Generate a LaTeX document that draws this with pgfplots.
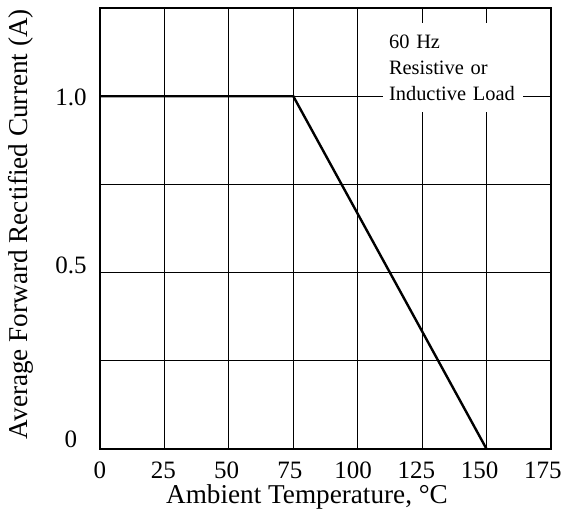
\documentclass[border=0pt]{standalone}
\usepackage{fontspec}
\setmainfont{Liberation Serif}
\usepackage{pgfplots}
\pgfplotsset{compat=1.18}

\begin{document}
\begin{tikzpicture}
  \begin{axis}[
      name=ax,
      scale only axis,
      width=225.5pt, height=220.5pt,
      xmin=0, xmax=175,
      ymin=0, ymax=1.25,
      % grid lines only, labels come from the extra ticks
      xtick={0,25,...,175},
      xticklabels={},
      ytick={0,0.5,1},
      yticklabels={},
      minor ytick={0.25,0.75},
      grid=both,
      grid style={black, line width=0.6pt},
      minor grid style={black, line width=0.6pt},
      axis line style={black, line width=0.6pt},
      major tick length=0pt,
      minor tick length=0pt,
      extra x ticks={0,24.55,49.1,73.65,98.2,122.75,147.3,171.85},
      extra x tick labels={0,25,50,75,100,125,150,175},
      extra y ticks={0.0283,0.5215,0.9963},
      extra y tick labels={0,0.5,1.0},
      extra tick style={grid=none, major tick length=0pt},
      /pgf/number format/assume math mode=true,
      ticklabel style={font=\fontsize{12.5}{15}\selectfont},
      xticklabel style={anchor=center, yshift=-10.5pt},
      yticklabel style={anchor=center, xshift=-14.5pt},
      label style={font=\fontsize{13.6}{16}\selectfont},
      xlabel={Ambient Temperature, °C},
      ylabel={Average Forward Rectified Current (A)},
      xlabel style={at={(axis description cs:0.459,0)}, anchor=center, yshift=-24pt},
      ylabel style={at={(axis description cs:0,0.5)}, anchor=center, yshift=39.7pt, xshift=2.2pt},
      clip=false,
    ]

    % derating curve
    \addplot[black, line width=1.2pt] coordinates {(0,1) (75,1) (150,0)};

    % note box
    \node[fill=white, inner xsep=3pt, inner ysep=0pt, text width=64pt,
          minimum height=44.5pt, align=left,
          font=\fontsize{10.2}{13}\selectfont]
      at (axis cs:137,1.081) {60 Hz\\Resistive or\\Inductive Load};
  \end{axis}
  \pgfresetboundingbox
  \path ([shift={(-50pt,-33.5pt)}]ax.south west) rectangle ([shift={(6pt,4pt)}]ax.north east);
\end{tikzpicture}
\end{document}
